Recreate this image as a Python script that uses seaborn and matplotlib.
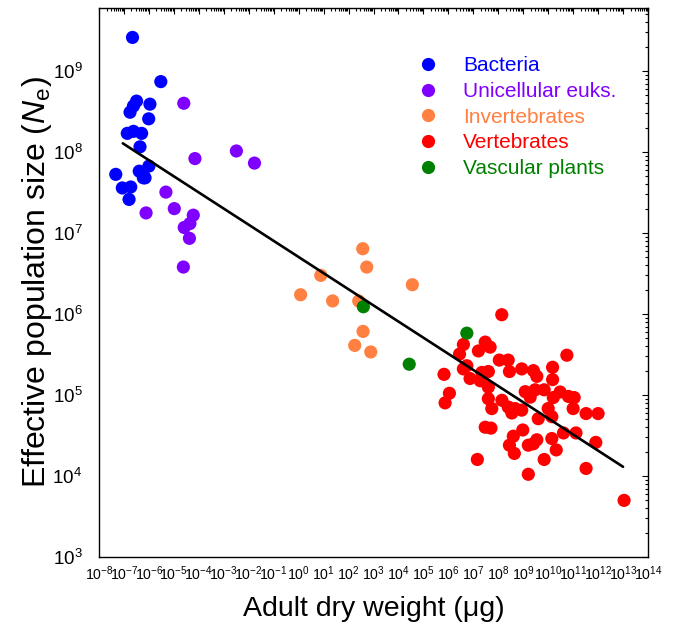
import numpy as np
import pandas as pd
import matplotlib
matplotlib.use("Agg")
import matplotlib.pyplot as plt
import seaborn as sns
from matplotlib.ticker import LogLocator, NullFormatter
from matplotlib.lines import Line2D

# ---- data (adult dry weight in ug, effective population size) ----
bact_w = [2.2e-7, 3.0e-6, 3.2e-7, 2.4e-7, 1.1e-6, 1.75e-7, 9.8e-7, 1.36e-7, 2.4e-7, 5.1e-7,
          4.4e-7, 1.0e-6, 4.1e-7, 6.0e-7, 4.7e-8, 8.6e-8, 1.87e-7, 1.6e-7, 7.0e-7]
bact_ne = [2.6e9, 7.4e8, 4.25e8, 3.7e8, 3.9e8, 3.1e8, 2.57e8, 1.7e8, 1.8e8, 1.7e8,
           1.16e8, 6.7e7, 5.8e7, 4.8e7, 5.3e7, 3.6e7, 3.7e7, 2.6e7, 4.8e7]

uni_w = [2.5e-5, 7.0e-5, 3.2e-3, 1.7e-2, 4.8e-6, 7.7e-7, 1.04e-5, 6.0e-5, 4.4e-5, 2.6e-5,
         4.2e-5, 2.4e-5]
uni_ne = [4.0e8, 8.3e7, 1.03e8, 7.3e7, 3.2e7, 1.77e7, 2.0e7, 1.66e7, 1.31e7, 1.17e7,
          8.6e6, 3.8e6]

inv_w = [371, 536, 3.6e4, 7.7, 1.2, 23, 256, 381, 177, 776]
inv_ne = [6.4e6, 3.8e6, 2.3e6, 3.0e6, 1.73e6, 1.45e6, 1.45e6, 6.1e5, 4.1e5, 3.4e5]

vert_w = [1.38e8, 4.0e6, 2.8e6, 3.0e7, 1.6e7, 4.7e7, 5.6e10, 1.1e8, 2.5e8, 5.5e6,
          4.0e6, 8.7e8, 2.8e8, 2.55e9, 1.5e10, 6.7e5, 2.2e7, 4.0e7, 7.4e6, 1.9e7,
          3.5e9, 1.5e10, 4.0e7, 1.1e6, 1.2e9, 3.0e9, 6.9e9, 3.0e10, 6.5e10, 1.1e11,
          1.6e10, 1.9e9, 7.4e5, 4.0e7, 1.4e8, 2.5e8, 5.5e7, 4.7e8, 8.7e8, 3.5e8,
          1.0e10, 1.0e11, 4.0e9, 1.4e10, 3.3e11, 1.0e12, 9.6e8, 4.0e8, 3.0e7, 5.1e7,
          4.1e10, 1.3e11, 1.4e10, 3.5e9, 2.55e9, 1.6e9, 2.8e8, 2.1e10, 4.4e8, 8.1e11,
          1.45e7, 6.9e9, 3.3e11, 1.6e9, 1.1e13]
vert_ne = [9.8e5, 4.2e5, 3.2e5, 4.5e5, 3.5e5, 3.9e5, 3.1e5, 2.7e5, 2.7e5, 2.3e5,
           2.1e5, 2.1e5, 1.95e5, 2.0e5, 2.2e5, 1.8e5, 1.9e5, 1.95e5, 1.6e5, 1.5e5,
           1.7e5, 1.55e5, 1.25e5, 1.05e5, 1.1e5, 1.16e5, 1.16e5, 1.09e5, 9.6e4, 9.3e4,
           9.3e4, 9.4e4, 8.0e4, 9.0e4, 8.6e4, 7.1e4, 6.8e4, 6.8e4, 6.5e4, 6.0e4,
           6.8e4, 6.8e4, 5.1e4, 5.4e4, 5.9e4, 5.9e4, 3.7e4, 3.1e4, 4.0e4, 3.9e4,
           3.4e4, 3.4e4, 2.9e4, 2.8e4, 2.5e4, 2.4e4, 2.4e4, 2.1e4, 1.9e4, 2.6e4,
           1.6e4, 1.6e4, 1.24e4, 1.05e4, 5.0e3]

plant_w = [392, 2.7e4, 5.5e6]
plant_ne = [1.23e6, 2.4e5, 5.8e5]

fit_w = [9e-8, 1e13]
fit_ne = [1.28e8, 1.3e4]

groups = ["Bacteria", "Unicellular euks.", "Invertebrates", "Vertebrates", "Vascular plants"]
colors = ["#0000FF", "#8000FF", "#FF8040", "#FF0000", "#008000"]

# ---- build table ----
parts = []
for g, w, ne in zip(groups, [bact_w, uni_w, inv_w, vert_w, plant_w],
                    [bact_ne, uni_ne, inv_ne, vert_ne, plant_ne]):
    parts.append(pd.DataFrame({"weight": w, "ne": ne, "group": g}))
df = pd.concat(parts, ignore_index=True)

sns.set_theme(style="white")
plt.rcParams['font.family'] = ['Liberation Sans', 'DejaVu Sans']
plt.rcParams['mathtext.fontset'] = 'custom'
plt.rcParams['mathtext.rm'] = 'Liberation Sans'
plt.rcParams['mathtext.it'] = 'Liberation Sans:italic'
plt.rcParams['mathtext.bf'] = 'Liberation Sans:bold'
plt.rcParams['text.color'] = 'black'
plt.rcParams['axes.labelcolor'] = 'black'
plt.rcParams['xtick.color'] = 'black'
plt.rcParams['ytick.color'] = 'black'

fig = plt.figure(figsize=(6.74, 6.29), dpi=100)
ax = fig.add_axes([99/674, 1 - 557/629, 549/674, 549/629])
ax.set_xscale('log')
ax.set_yscale('log')

sns.scatterplot(data=df, x="weight", y="ne", hue="group", hue_order=groups,
                palette=dict(zip(groups, colors)), s=90, linewidth=0, alpha=1,
                ax=ax, legend=False, zorder=2)
sns.lineplot(x=fit_w, y=fit_ne, ax=ax, color="black", linewidth=1.9, zorder=3)

ax.set_xticks(10.0 ** np.arange(-8, 15))
ax.set_yticks(10.0 ** np.arange(3, 10))
for axis in (ax.xaxis, ax.yaxis):
    axis.set_minor_locator(LogLocator(base=10, subs=np.arange(2, 10), numticks=200))
    axis.set_minor_formatter(NullFormatter())
ax.set_xlim(1e-8, 1e14)
ax.set_ylim(1e3, 6e9)

ax.tick_params(which='both', direction='in', top=True, right=True, color='black',
               labelcolor='black', width=0.8)
ax.tick_params(which='major', length=4)
ax.tick_params(which='minor', length=2)
ax.tick_params(axis='x', which='major', labelsize=10.2, pad=5)
ax.tick_params(axis='y', which='major', labelsize=13.5, pad=12)

for sp in ax.spines.values():
    sp.set_color('black')
    sp.set_linewidth(1.0)

ax.set_xlabel("Adult dry weight (\u03bcg)", fontsize=20.5, labelpad=10, color='black')
ax.set_ylabel("Effective population size ($\\mathit{N}_{\\mathrm{e}}$)", fontsize=23,
              labelpad=-1, color='black')

handles = [Line2D([], [], marker='o', ls='', color=c, markersize=9.5, markeredgewidth=0)
           for c in colors]
leg = ax.legend(handles, groups, loc='upper left', bbox_to_anchor=(0.547, 0.946),
                frameon=False, fontsize=15, handlelength=1.0, handletextpad=1.15,
                labelspacing=0.32, borderpad=0.4)
for t, c in zip(leg.get_texts(), colors):
    t.set_color(c)

fig.savefig("out.png", dpi=100)
